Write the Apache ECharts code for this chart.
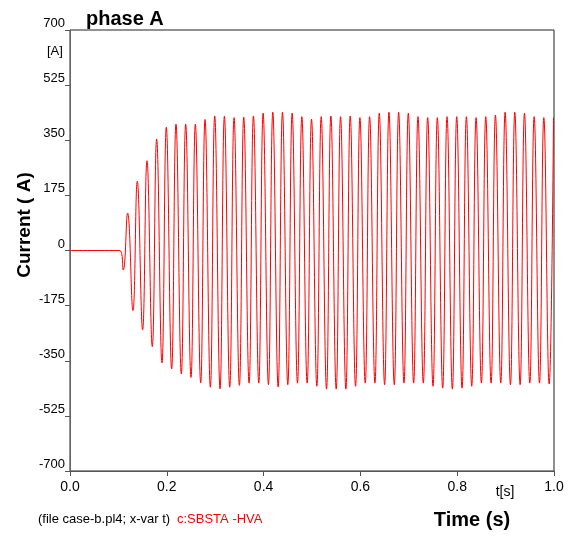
<!DOCTYPE html>
<html>
<head>
<meta charset="utf-8">
<script src="https://cdn.jsdelivr.net/npm/echarts@6/dist/echarts.min.js"></script>
<style>
    html, body { margin: 0; padding: 0; background: #fff; }
    #chart { width: 579px; height: 539px; }
</style>
</head>
<body>
<div id="chart"></div>
<script>
// x axis ticks and y axis ticks
var xTicks = [0.0, 0.2, 0.4, 0.6, 0.8, 1.0];
var yTicks = [-700, -525, -350, -175, 0, 175, 350, 525, 700];

// flat current before the switching event
var onsetTimes = [0.0, 0.103];
var onsetValues = [0, 0];

// negative extremes of each cycle
var troughTimes = [0.110, 0.130, 0.150, 0.170, 0.190, 0.210, 0.230, 0.250, 0.270, 0.290,
    0.310, 0.330, 0.350, 0.370, 0.390, 0.410, 0.430, 0.450, 0.470, 0.490,
    0.510, 0.530, 0.550, 0.570, 0.590, 0.610, 0.630, 0.650, 0.670, 0.690,
    0.710, 0.730, 0.750, 0.770, 0.790, 0.810, 0.830, 0.850, 0.870, 0.890,
    0.910, 0.930, 0.950, 0.970, 0.990];
var troughValues = [-62, -191, -252, -305, -357, -376, -392, -403, -420, -434,
    -439, -434, -428, -421, -421, -426, -433, -426, -421, -421,
    -431, -440, -440, -440, -431, -421, -421, -426, -426, -421,
    -421, -421, -431, -437, -440, -437, -431, -421, -421, -421,
    -426, -426, -421, -421, -424];

// positive extremes of each cycle
var peakTimes = [0.119, 0.139, 0.159, 0.179, 0.199, 0.219, 0.239, 0.259, 0.279, 0.299,
    0.319, 0.339, 0.359, 0.379, 0.399, 0.419, 0.439, 0.459, 0.479, 0.499,
    0.519, 0.539, 0.559, 0.579, 0.599, 0.619, 0.639, 0.659, 0.679, 0.699,
    0.719, 0.739, 0.759, 0.779, 0.799, 0.819, 0.839, 0.859, 0.879, 0.899,
    0.919, 0.939, 0.959, 0.979, 0.999];
var peakValues = [119, 220, 285, 354, 391, 401, 401, 401, 416, 427,
    426, 422, 423, 427, 436, 439, 439, 436, 425, 417,
    425, 427, 425, 427, 422, 425, 436, 439, 439, 436,
    425, 422, 422, 425, 425, 425, 422, 425, 430, 439,
    439, 436, 425, 422, 422];

var labelFont = "'Liberation Sans', Arial, sans-serif";
var narrowFont = "'Liberation Sans Narrow', 'Liberation Sans', Arial, sans-serif";

function BuildSeries() {
    var data = [];
    for (var i = 0; i < onsetTimes.length; i++) {
        data.push([onsetTimes[i], onsetValues[i]]);
    }
    for (var k = 0; k < troughTimes.length; k++) {
        data.push([troughTimes[k], troughValues[k]]);
        data.push([peakTimes[k], peakValues[k]]);
    }
    return data;
}

var myChart = echarts.init(document.getElementById('chart'));

var option = {
    animation: false,
    backgroundColor: '#fff',
    grid: {
        left: 70,
        top: 30,
        width: 484,
        height: 441,
        outerBoundsMode: 'none',
        show: true,
        borderColor: '#222',
        borderWidth: 1
    },
    xAxis: {
        type: 'value',
        min: xTicks[0],
        max: xTicks[xTicks.length - 1],
        interval: 0.2,
        splitLine: { show: false },
        axisLine: { show: true, onZero: false, lineStyle: { color: '#555', width: 1 } },
        axisTick: { show: true, length: 5, lineStyle: { color: '#555' } },
        axisLabel: {
            margin: 9,
            fontSize: 14,
            fontFamily: labelFont,
            color: '#000',
            formatter: function (v) { return v.toFixed(1); }
        }
    },
    yAxis: {
        type: 'value',
        min: yTicks[0],
        max: yTicks[yTicks.length - 1],
        interval: 175,
        splitLine: { show: false },
        axisLine: { show: true, onZero: false, lineStyle: { color: '#666', width: 1 } },
        axisTick: { show: true, length: 5, lineStyle: { color: '#555' } },
        axisLabel: {
            margin: 5,
            fontSize: 13,
            fontFamily: labelFont,
            color: '#000',
            verticalAlign: 'bottom',
            lineHeight: 13
        }
    },
    graphic: [
        { type: 'text', left: 86, top: 9, style: { text: 'phase A', font: "bold 20px 'Liberation Sans', Arial", fill: '#000' } },
        { type: 'text', left: 47, top: 45, style: { text: '[A]', font: "13px 'Liberation Sans', Arial", fill: '#000' } },
        { type: 'text', x: 25, y: 225, rotation: Math.PI / 2, style: { text: 'Current ( A)', font: "bold 19px 'Liberation Sans', Arial", fill: '#000', align: 'center', verticalAlign: 'middle' } },
        { type: 'text', x: 505, y: 492, style: { text: 't[s]', font: "14px 'Liberation Sans', Arial", fill: '#000', align: 'center', verticalAlign: 'middle' } },
        { type: 'text', x: 472, y: 520, style: { text: 'Time (s)', font: "bold 20px 'Liberation Sans', Arial", fill: '#000', align: 'center', verticalAlign: 'middle' } },
        { type: 'text', x: 38, y: 519, style: { text: '(file case-b.pl4; x-var t)', font: "13px " + narrowFont, fill: '#000', verticalAlign: 'middle' } },
        { type: 'text', x: 177, y: 519, style: { text: 'c:SBSTA -HVA', font: "13px " + narrowFont, fill: '#ff0000', verticalAlign: 'middle' } }
    ],
    series: [{
        name: 'c:SBSTA -HVA',
        type: 'line',
        data: BuildSeries(),
        showSymbol: false,
        smooth: 0.45,
        lineStyle: { color: '#ff0000', width: 1 },
        itemStyle: { color: '#ff0000' }
    }]
};

myChart.setOption(option);
</script>
</body>
</html>
